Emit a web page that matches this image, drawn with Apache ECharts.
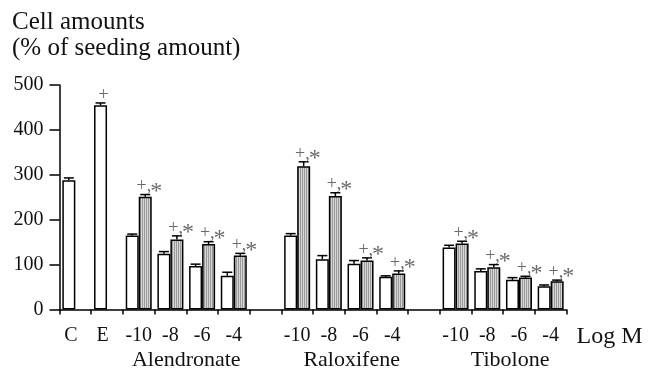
<!DOCTYPE html>
<html>
<head>
<meta charset="utf-8">
<script src="https://cdn.jsdelivr.net/npm/echarts@6/dist/echarts.min.js"></script>
<style>
  html, body { margin: 0; padding: 0; background: #fff; }
  #chart { width: 656px; height: 369px; }
</style>
</head>
<body>
<div id="chart"></div>
<script>
// ---- data ----
const categories = ['C', 'E', '-10', '-8', '-6', '-4', '', '-10', '-8', '-6', '-4', '', '-10', '-8', '-6', '-4'];
const whiteValues = [288, 455, 165, 124, 97, 75, null, 165, 112, 102, 73, null, 138, 86, 66, 52];
const whiteErrors = [5, 5, 3, 5, 4, 8, null, 4, 8, 7, 2, null, 5, 4.5, 5, 2.6];
const stripedValues = [null, null, 251, 156, 146, 120, null, 319, 253, 109, 80, null, 147, 94, 71, 63];
const stripedErrors = [null, null, 5, 8, 5, 5, null, 10, 7, 6, 6, null, 5, 6, 3, 2.5];
const whiteMarks = ['', '+', '', '', '', '', '', '', '', '', '', '', '', '', '', ''];
const stripedMarks = ['', '', '+,*', '+,*', '+,*', '+,*', '', '+,*', '+,*', '+,*', '+,*', '', '+,*', '+,*', '+,*', '+,*'];
// group names placed on category boundaries (17 boundary points)
const groupBoundaryLabels = ['', '', '', '', 'Alendronate', '', '', '', '', 'Raloxifene', '', '', '', '', 'Tibolone', '', ''];
const yTicks = { min: 0, max: 500, interval: 100 };
const titleLines = ['Cell amounts', '(% of seeding amount)'];
const xAxisName = 'Log M';

// ---- styles ----
const FONT = '"Liberation Serif", "Times New Roman", serif';
const BAR_W = 13;

const stripeCanvas = document.createElement('canvas');
stripeCanvas.width = 2; stripeCanvas.height = 4;
(function () {
  const c = stripeCanvas.getContext('2d');
  c.fillStyle = '#d6d6d6'; c.fillRect(0, 0, 2, 4);
  c.fillStyle = '#9a9a9a'; c.fillRect(0, 0, 1, 4);
})();

function errData(vals, errs) {
  return vals.map((v, i) => v == null ? [i, '-', '-'] : [i, v, errs[i]]);
}
const errMarks = { w: whiteMarks, s: stripedMarks };

function markChildren(mark, cx, y) {
  const star = mark.indexOf('*');
  const col = '#6a6a6a';
  if (star < 0) {
    return [{ type: 'text', style: { text: mark, x: cx, y: y, align: 'center', verticalAlign: 'middle', fill: col, font: '18px ' + FONT } }];
  }
  const head = mark.slice(0, star);
  return [
    { type: 'text', style: { text: head, x: cx + 1, y: y, align: 'right', verticalAlign: 'middle', fill: col, font: '18px ' + FONT } },
    { type: 'text', style: { text: '*', x: cx, y: y + 5, align: 'left', verticalAlign: 'middle', fill: col, font: '24px ' + FONT } }
  ];
}

function makeErrRender(side, labelDx) {
  return function (params, api) {
    const v = api.value(1);
    if (isNaN(v)) return null;
    const i = api.value(0);
    const e = api.value(2);
    const mark = errMarks[side][params.dataIndex];
    const base = api.coord([i, v]);
    const top = api.coord([i, v + e]);
    const x = base[0] + (side === 'w' ? -BAR_W / 2 : BAR_W / 2);
    let children = [
      { type: 'line', shape: { x1: x, y1: base[1], x2: x, y2: top[1] }, style: { stroke: '#000', lineWidth: 1.5 } },
      { type: 'line', shape: { x1: x - 5, y1: top[1], x2: x + 5, y2: top[1] }, style: { stroke: '#000', lineWidth: 1.5 } }
    ];
    if (mark) children = children.concat(markChildren(mark, x + labelDx, top[1] - 8));
    return { type: 'group', children };
  };
}

const chart = echarts.init(document.getElementById('chart'), null, { renderer: 'canvas' });
chart.setOption({
  animation: false,
  backgroundColor: '#fff',
  title: {
    text: titleLines.join('\n'),
    left: 12, top: 10, padding: 0,
    textStyle: { fontFamily: FONT, fontSize: 25, fontWeight: 'normal', color: '#111', lineHeight: 25.5 }
  },
  grid: { left: 59.5, right: 89.5, top: 85, bottom: 59.5, containLabel: false, outerBoundsMode: 'none' },
  xAxis: [
    {
      type: 'category', data: categories, position: 'bottom',
      axisLine: { lineStyle: { color: '#000', width: 1.5 } },
      axisTick: { show: true, length: 5, interval: 0, lineStyle: { color: '#000', width: 1.5 } },
      axisLabel: {
        interval: 0, margin: 16, color: '#111', fontFamily: FONT, fontSize: 20,
        formatter: function (val) { return (val === 'C' || val === 'E') ? '{s|' + val + '}' : val; },
        rich: { s: { fontFamily: FONT, fontSize: 20, color: '#111', padding: [0, 9, 0, 0] } }
      },
      name: xAxisName, nameLocation: 'end', nameGap: 10,
      nameTextStyle: { fontFamily: FONT, fontSize: 24, color: '#111', verticalAlign: 'top', padding: [15, 0, 0, 0] }
    },
    {
      type: 'category', data: groupBoundaryLabels, position: 'bottom', boundaryGap: false,
      axisLine: { show: false }, axisTick: { show: false },
      axisLabel: {
        interval: 0, margin: 40, color: '#111', fontFamily: FONT, fontSize: 22,
        formatter: function (val) { return val === 'Alendronate' ? val : (val ? '{r|' + val + '}' : ''); },
        rich: { r: { fontFamily: FONT, fontSize: 22, color: '#111', padding: [0, 0, 0, 14] } }
      }
    }
  ],
  yAxis: {
    type: 'value', min: yTicks.min, max: yTicks.max, interval: yTicks.interval,
    axisLine: { show: true, lineStyle: { color: '#000', width: 1.5 } },
    axisTick: { show: true, length: 10, lineStyle: { color: '#000', width: 1.5 } },
    axisLabel: { margin: 16, color: '#111', fontFamily: FONT, fontSize: 20, padding: [4, 0, 0, 0] },
    splitLine: { show: false }
  },
  series: [
    {
      type: 'bar', name: 'white', data: whiteValues, barWidth: BAR_W, barGap: '0%',
      itemStyle: { color: '#fff', borderColor: '#000', borderWidth: 1.5 }
    },
    {
      type: 'bar', name: 'striped', data: stripedValues, barWidth: BAR_W, barGap: '0%',
      itemStyle: { color: { image: stripeCanvas, repeat: 'repeat' }, borderColor: '#000', borderWidth: 1.5 }
    },
    {
      type: 'custom', name: 'whiteErr', data: errData(whiteValues, whiteErrors),
      renderItem: makeErrRender('w', 3), z: 5, encode: { x: 0, y: 1 }
    },
    {
      type: 'custom', name: 'stripedErr', data: errData(stripedValues, stripedErrors),
      renderItem: makeErrRender('s', 5), z: 5, encode: { x: 0, y: 1 }
    }
  ]
});
</script>
</body>
</html>
